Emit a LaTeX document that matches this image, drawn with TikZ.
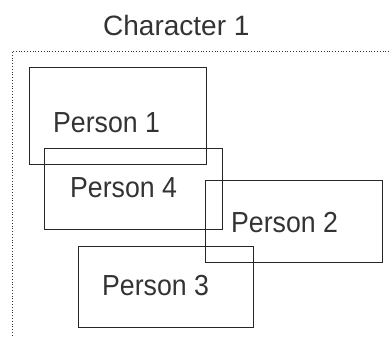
\documentclass[tikz,border=0pt]{standalone}
\usepackage{fontspec}
\setmainfont{Liberation Sans}
\newfontfamily\narrowsans[FakeStretch=0.92]{Liberation Sans}
\begin{document}
\begin{tikzpicture}[x=1pt,y=-1pt,
  personbox/.style={draw=black!85,line width=0.8pt},
  frameline/.style={draw=black!80,line width=0.8pt,dotted},
  caption/.style={anchor=base west,inner sep=0pt,text=black!80},
  titletext/.style={caption,font=\fontsize{28}{30}\selectfont},
  persontext/.style={caption,font=\narrowsans\fontsize{29}{32}\selectfont}]
  \useasboundingbox (0,0) rectangle (389,340);
  % outer dotted frame (top and left edges only)
  \coordinate (frameTR) at (389,51);
  \coordinate (frameTL) at (12,51);
  \coordinate (frameBL) at (12,337);
  \draw[frameline] (frameTR) -- (frameTL) -- (frameBL);
  % title
  \node[titletext] (title) at (103,35) {Character 1};
  % overlapping person boxes
  \draw[personbox] (29,67) rectangle (206,164);
  \draw[personbox] (44,148) rectangle (222,229);
  \draw[personbox] (205,180) rectangle (382,262);
  \draw[personbox] (78,246) rectangle (253,327);
  % person labels
  \node[persontext] (p1) at (53,132) {Person 1};
  \node[persontext] (p4) at (70,197) {Person 4};
  \node[persontext] (p2) at (231,232) {Person 2};
  \node[persontext] (p3) at (102,295) {Person 3};
\end{tikzpicture}
\end{document}
